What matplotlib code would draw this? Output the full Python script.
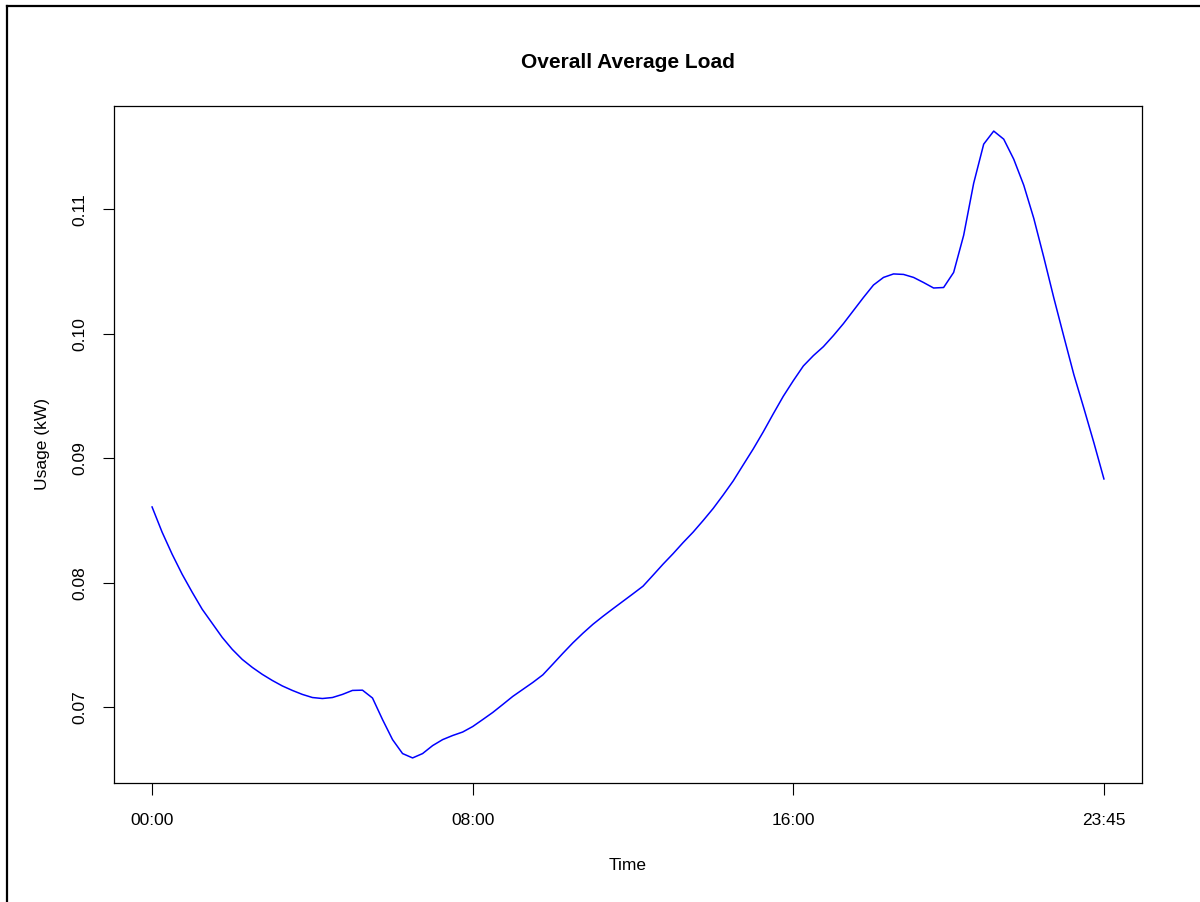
#!/usr/bin/env python3

import matplotlib
matplotlib.use('Agg')
import matplotlib.pyplot as plt
from matplotlib.lines import Line2D

# average load per 15-minute slot (kW), 00:00 .. 23:45
usage = [0.08610, 0.08408, 0.08231, 0.08070, 0.07926, 0.07789, 0.07676, 0.07563,
         0.07467, 0.07386, 0.07322, 0.07266, 0.07217, 0.07173, 0.07137, 0.07105,
         0.07080, 0.07072, 0.07080, 0.07105, 0.07137, 0.07139, 0.07076, 0.06903,
         0.06742, 0.06630, 0.06595, 0.06630, 0.06694, 0.06742, 0.06775, 0.06803,
         0.06847, 0.06903, 0.06960, 0.07024, 0.07089, 0.07145, 0.07201, 0.07262,
         0.07348, 0.07435, 0.07519, 0.07596, 0.07668, 0.07732, 0.07793, 0.07853,
         0.07913, 0.07974, 0.08062, 0.08151, 0.08235, 0.08324, 0.08408, 0.08501,
         0.08598, 0.08706, 0.08819, 0.08948, 0.09076, 0.09213, 0.09358, 0.09499,
         0.09624, 0.09742, 0.09825, 0.09897, 0.09986, 0.10082, 0.10187, 0.10292,
         0.10392, 0.10453, 0.10481, 0.10477, 0.10453, 0.10412, 0.10368, 0.10372,
         0.10493, 0.10791, 0.11209, 0.11523, 0.11628, 0.11563, 0.11402, 0.11193,
         0.10927, 0.10614, 0.10288, 0.09978, 0.09672, 0.09402, 0.09125, 0.08835]

x_tick_pos = [1, 33, 65, 96]
x_tick_labels = ['00:00', '08:00', '16:00', '23:45']
y_ticks = [0.07, 0.08, 0.09, 0.10, 0.11]
y_tick_labels = ['0.07', '0.08', '0.09', '0.10', '0.11']

plt.rcParams['font.family'] = ['Liberation Sans', 'DejaVu Sans']

W, H = 1200, 902
fig = plt.figure(figsize=(W / 100, H / 100), dpi=100)
ax = fig.add_axes([114 / W, 1 - 783 / H, 1028 / W, 677 / H])

slots = list(range(1, len(usage) + 1))
ax.plot(slots, usage, color='#0000FF', lw=1.1)

# R-style 4% padding on both axes
n = len(usage)
xpad = 0.04 * (n - 1)
ax.set_xlim(1 - xpad, n + xpad)
lo, hi = min(usage), max(usage)
ypad = 0.04 * (hi - lo)
ax.set_ylim(lo - ypad, hi + ypad)

ax.set_xticks(x_tick_pos)
ax.set_xticklabels(x_tick_labels)
ax.set_yticks(y_ticks)
ax.set_yticklabels(y_tick_labels, rotation=90, va='center')

ax.tick_params(axis='x', direction='out', length=8.6, width=0.8, pad=13, labelsize=12.5)
ax.tick_params(axis='y', direction='out', length=8, width=0.8, pad=11, labelsize=12.5)
for sp in ax.spines.values():
    sp.set_linewidth(0.9)
    sp.set_color('black')

fig.text(628 / W, 1 - 62 / H, 'Overall Average Load', ha='center', va='center',
         fontsize=15, fontweight='bold')
fig.text(628 / W, 1 - 865 / H, 'Time', ha='center', va='center', fontsize=12.5)
fig.text(43 / W, 1 - 444 / H, 'Usage (kW)', ha='center', va='center',
         rotation=90, fontsize=12.5)

# outer frame (left and top edges visible)
fig.add_artist(Line2D([7 / W, 1], [1 - 6 / H, 1 - 6 / H], color='black', lw=1.6))
fig.add_artist(Line2D([7 / W, 7 / W], [0, 1 - 6 / H], color='black', lw=1.6))

fig.savefig('out.png', dpi=100)
